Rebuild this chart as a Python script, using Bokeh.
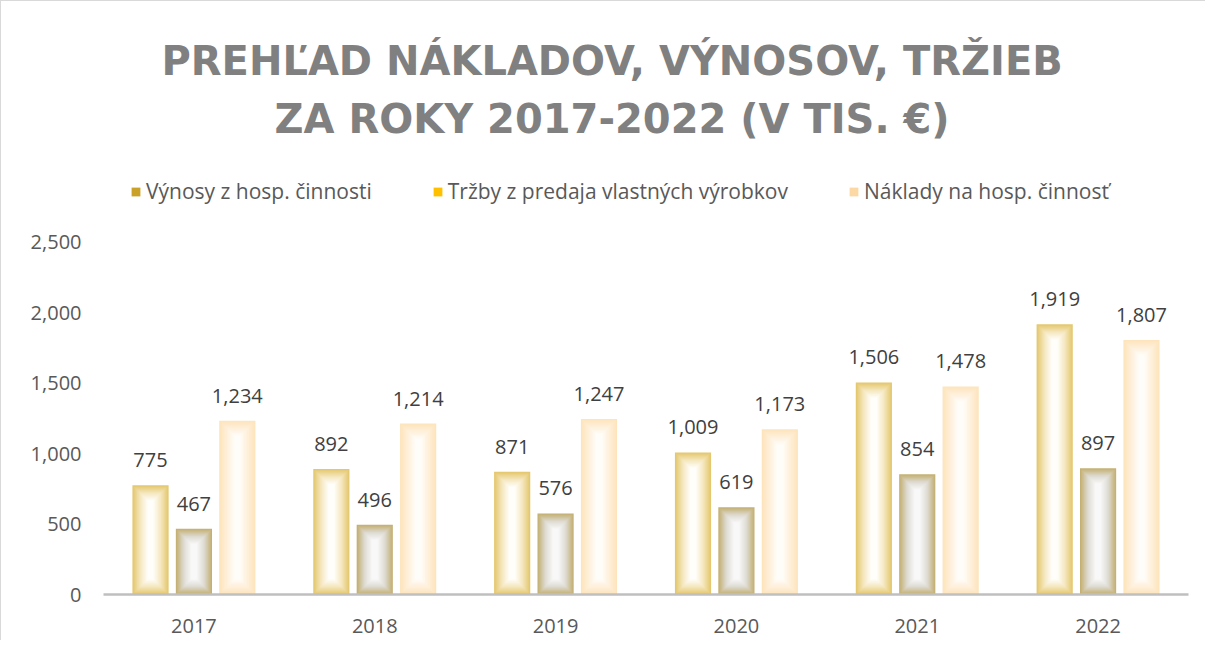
from bokeh.plotting import figure
from bokeh.models import (ColumnDataSource, FactorRange, FixedTicker, Legend, LegendItem,
                          LabelSet, Title, NumeralTickFormatter)
from bokeh.core.properties import value
from bokeh.transform import dodge
from bokeh.embed import file_html
from bokeh.resources import INLINE

# ---------------- data ----------------
years = ["2017", "2018", "2019", "2020", "2021", "2022"]
vynosy = [775, 892, 871, 1009, 1506, 1919]      # Výnosy z hosp. činnosti
trzby = [467, 496, 576, 619, 854, 897]          # Tržby z predaja vlastných výrobkov
naklady = [1234, 1214, 1247, 1173, 1478, 1807]  # Náklady na hosp. činnosť
series_names = ["Výnosy z hosp. činnosti", "Tržby z predaja vlastných výrobkov", "Náklady na hosp. činnosť"]
y_ticks = [0, 500, 1000, 1500, 2000, 2500]
title_lines = ["PREHĽAD NÁKLADOV, VÝNOSOV, TRŽIEB", "ZA ROKY 2017-2022 (V TIS. €)"]

# ---------------- layout constants ----------------
W, H = 1205, 640
FRAME_L, FRAME_R = 102, 18
FRAME_TOP_FIG = 140
FRAME_BOT_FIG = 593
Y_END = 3217
frame_h = FRAME_BOT_FIG - FRAME_TOP_FIG
px_per_unit = frame_h / Y_END
cat_px = (W - FRAME_L - FRAME_R) / len(years)

BAR_W = 0.2
OFFSETS = [-0.24, 0.0, 0.24]

# colour stops: edge -> mid -> centre
stops = [
    ["#e4c76e", "#f5e8c0", "#fffefb"],
    ["#c4b073", "#dedbd3", "#f8f8f8"],
    ["#fde4bc", "#fef0db", "#fffdf9"],
]
legend_cols = ["#c9a227", "#ffc000", "#fcd9a4"]

N_LAYERS = 16


def hex2rgb(h):
    h = h.lstrip("#")
    return tuple(int(h[i:i + 2], 16) for i in (0, 2, 4))


def blend(a, b, t):
    ra, rb = hex2rgb(a), hex2rgb(b)
    return "#%02x%02x%02x" % tuple(int(round(x + (y - x) * t)) for x, y in zip(ra, rb))


def grad(cs, t):
    if t < 0.5:
        return blend(cs[0], cs[1], t / 0.5)
    return blend(cs[1], cs[2], (t - 0.5) / 0.5)


p = figure(width=W, height=H, x_range=FactorRange(*years, range_padding=0),
           y_range=(0, Y_END), output_backend="svg", toolbar_location=None,
           min_border_left=FRAME_L, min_border_right=FRAME_R,
           min_border_top=FRAME_TOP_FIG, min_border_bottom=H - FRAME_BOT_FIG)
p.styles = {"border-left": "1px solid #d9d9d9", "border-top": "1px solid #d9d9d9"}
p.outline_line_color = None
p.xgrid.grid_line_color = None
p.ygrid.grid_line_color = None
p.background_fill_color = "white"
p.border_fill_color = "white"

src = ColumnDataSource(dict(year=years, v0=vynosy, v1=trzby, v2=naklady,
                            l0=[f"{v:,}" for v in vynosy],
                            l1=[f"{v:,}" for v in trzby],
                            l2=[f"{v:,}" for v in naklady]))

legend_renderers = []
for si, vals in enumerate([vynosy, trzby, naklady]):
    x_tr = dodge("year", OFFSETS[si], range=p.x_range)
    for li in range(N_LAYERS):
        inset = li
        t = li / (N_LAYERS - 1)
        dv = inset / px_per_unit
        src.data[f"top_{si}_{li}"] = [v - dv for v in vals]
        width = BAR_W - 2 * inset / cat_px
        p.vbar(x=x_tr, top=f"top_{si}_{li}", bottom=dv, width=width, source=src,
               fill_color=grad(stops[si], t), line_color=None)
    # zero-width renderer used only for the legend swatch colour
    r = p.vbar(x=x_tr, top=f"v{si}", width=0, source=src,
               fill_color=legend_cols[si], line_color=None)
    legend_renderers.append(r)
    lbl = LabelSet(x=x_tr, y=f"v{si}", text=f"l{si}",
                   source=src, text_align="center", text_baseline="alphabetic", y_offset=18,
                   text_font=value("Open Sans"), text_font_size="20px", text_color="#404040")
    p.add_layout(lbl)

items = [LegendItem(label=series_names[si], renderers=[legend_renderers[si]]) for si in range(3)]
legend = Legend(items=items, orientation="horizontal", location=(27, 389),
                glyph_width=11, glyph_height=11, label_standoff=5, spacing=60,
                label_text_font="Open Sans", label_text_font_size="21px",
                label_text_color="#595959", background_fill_alpha=0,
                border_line_color=None, padding=0, margin=0)
p.add_layout(legend, "center")

# axes
p.yaxis.ticker = FixedTicker(ticks=y_ticks)
p.yaxis.formatter = NumeralTickFormatter(format="0,0")
p.yaxis.axis_line_color = None
p.yaxis.major_tick_line_color = None
p.yaxis.minor_tick_line_color = None
p.yaxis.major_label_standoff = 16
p.yaxis.major_label_text_font = "Open Sans"
p.yaxis.major_label_text_font_size = "20px"
p.yaxis.major_label_text_color = "#595959"

p.xaxis.axis_line_color = "#bfbfbf"
p.xaxis.axis_line_width = 2.5
p.xaxis.major_tick_line_color = None
p.xaxis.minor_tick_line_color = None
p.xaxis.major_label_standoff = 18
p.xaxis.major_label_text_font = "Open Sans"
p.xaxis.major_label_text_font_size = "20px"
p.xaxis.major_label_text_color = "#595959"

# title lines: the first "above" layout sits nearest the frame
t2 = Title(text=title_lines[1], align="left", text_font="DejaVu Sans", text_font_style="bold",
           text_font_size="40px", text_color="#808080", standoff=0, offset=171)
t1 = Title(text=title_lines[0], align="left", text_font="DejaVu Sans", text_font_style="bold",
           text_font_size="40px", text_color="#808080", standoff=20, offset=58)
p.add_layout(t2, "above")
p.add_layout(t1, "above")

open("out.html", "w").write(file_html(p, INLINE))
